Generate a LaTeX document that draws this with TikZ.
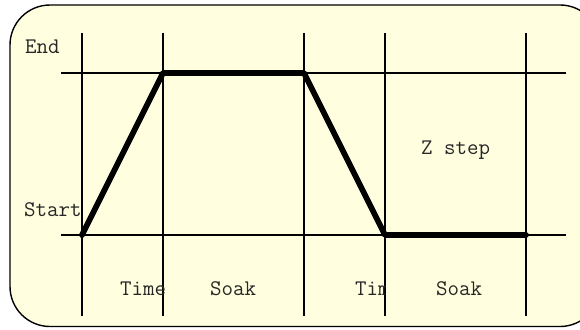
\documentclass[tikz,border=0pt]{standalone}
\begin{document}
\begin{tikzpicture}[x=1pt,y=-1pt,
  grid/.style={line width=1.4pt},
  prof/.style={line width=5.8pt,line join=round,line cap=round},
  lbl/.style={font=\ttfamily\fontsize{22.3}{22.3}\selectfont,anchor=base west,inner sep=0pt,text=black!85}]
\useasboundingbox (0,0) rectangle (580,329);
\begin{scope}
\clip (0,0) rectangle (580,329);
\draw[fill={rgb,255:red,255;green,255;blue,224},line width=1.4pt,rounded corners=40pt] (10,5) rectangle (600,326.5);
\end{scope}
% grid lines
\coordinate (v1t) at (82,33); \coordinate (v1b) at (82,316);
\coordinate (v2t) at (163,33); \coordinate (v2b) at (163,316);
\coordinate (v3t) at (304,33); \coordinate (v3b) at (304,316);
\coordinate (v4t) at (385,33); \coordinate (v4b) at (385,316);
\coordinate (v5t) at (526,33); \coordinate (v5b) at (526,316);
\coordinate (h1l) at (61,73); \coordinate (h1r) at (566,73);
\coordinate (h2l) at (61,235); \coordinate (h2r) at (566,235);
\draw[grid] (v1t) -- (v1b);
\draw[grid] (v2t) -- (v2b);
\draw[grid] (v3t) -- (v3b);
\draw[grid] (v4t) -- (v4b);
\draw[grid] (v5t) -- (v5b);
\draw[grid] (h1l) -- (h1r);
\draw[grid] (h2l) -- (h2r);
% profile
\coordinate (p1) at (82,235);
\coordinate (p2) at (163,73);
\coordinate (p3) at (304,73);
\coordinate (p4) at (385,235);
\coordinate (p5) at (526,235);
\draw[prof] (p1) -- (p2) -- (p3) -- (p4) -- (p5);
% labels
\node[lbl] (end) at (25,53) {End};
\node[lbl] (start) at (24,216) {Start};
\node[lbl] (time1) at (120,295) {Time};
\node[lbl] (soak1) at (210,295) {Soak};
\begin{scope}
\clip (340,270) rectangle (385.5,310);
\node[lbl] (time2) at (355,295) {Time};
\end{scope}
\node[lbl] (soak2) at (436,295) {Soak};
\node[lbl] (zstep) at (421,154) {Z step};
\end{tikzpicture}
\end{document}
